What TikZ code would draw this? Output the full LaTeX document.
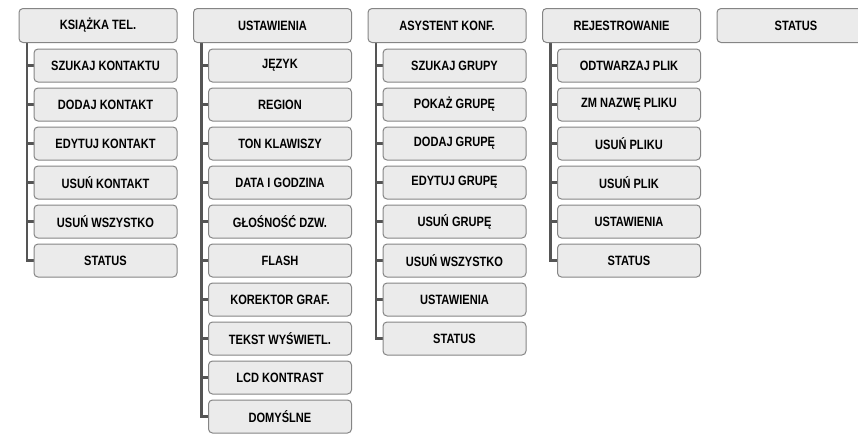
\documentclass[tikz,border=0pt]{standalone}
\usepackage{fontspec}
\setmainfont{Liberation Sans}[FakeStretch=0.82]
\usetikzlibrary{backgrounds}
\definecolor{boxfill}{HTML}{EBEBEB}
\definecolor{boxline}{HTML}{858585}
\definecolor{trunkgray}{HTML}{555555}
\tikzset{
  menubase/.style={draw=boxline, fill=boxfill, rounded corners=4pt, line width=1pt,
    inner sep=0pt, text=black, font=\bfseries\fontsize{13.5}{15}\selectfont},
  topbox/.style={menubase, minimum width=158pt, minimum height=34pt},
  subbox/.style={menubase, minimum width=143pt, minimum height=33pt},
  trunk/.style={draw=trunkgray, line width=2.6pt}
}
\newcommand\menucol[4]{%
  \node[topbox] (t#1) at (#2+79,25.5) {#3};
  \ifx\relax#4\relax\else
  \coordinate (v#1) at (#2+8,43);
  \foreach \s [count=\k] in {#4} {%
    \node[subbox] (c#1-\k) at (#2+86.5,26.5+39*\k) {\s};
    \begin{pgfonlayer}{background}
      \draw[trunk] (c#1-\k.west) -- (c#1-\k.west -| v#1);
    \end{pgfonlayer}
    \xdef\lastk{\k}%
  }
  \begin{pgfonlayer}{background}
    \draw[trunk] (v#1) |- (c#1-\lastk.west);
  \end{pgfonlayer}
  \fi
}
\begin{document}
\begin{tikzpicture}[x=1pt,y=-1pt]
\useasboundingbox (0,0) rectangle (858,434);
\clip (0,0) rectangle (858,434);
\menucol{1}{19}{KSIĄŻKA TEL.}{SZUKAJ KONTAKTU,DODAJ KONTAKT,EDYTUJ KONTAKT,USUŃ KONTAKT,USUŃ WSZYSTKO,STATUS}
\menucol{2}{193.5}{USTAWIENIA}{JĘZYK,REGION,TON KLAWISZY,DATA I GODZINA,GŁOŚNOŚĆ DZW.,FLASH,KOREKTOR GRAF.,TEKST WYŚWIETL.,LCD KONTRAST,DOMYŚLNE}
\menucol{3}{368}{ASYSTENT KONF.}{SZUKAJ GRUPY,POKAŻ GRUPĘ,DODAJ GRUPĘ,EDYTUJ GRUPĘ,USUŃ GRUPĘ,USUŃ WSZYSTKO,USTAWIENIA,STATUS}
\menucol{4}{542.5}{REJESTROWANIE}{ODTWARZAJ PLIK,ZM NAZWĘ PLIKU,USUŃ PLIKU,USUŃ PLIK,USTAWIENIA,STATUS}
\menucol{5}{717}{STATUS}{}
\end{tikzpicture}
\end{document}
